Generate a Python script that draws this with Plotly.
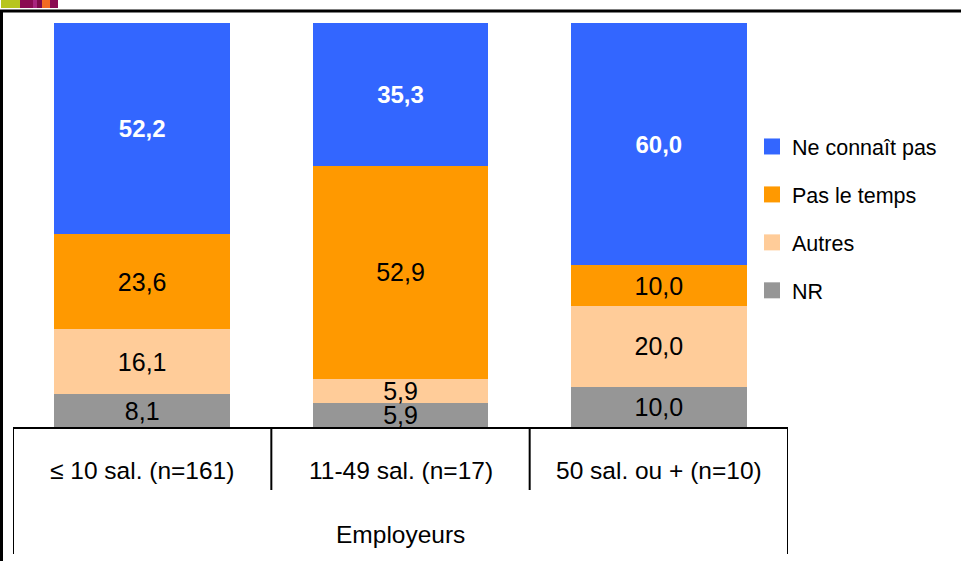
import plotly.graph_objects as go

categories = ["≤ 10 sal. (n=161)", "11-49 sal. (n=17)", "50 sal. ou + (n=10)"]
group_label = "Employeurs"
series_names = ["NR", "Autres", "Pas le temps", "Ne connaît pas"]
nr = [8.1, 5.9, 10.0]
autres = [16.1, 5.9, 20.0]
pas_le_temps = [23.6, 52.9, 10.0]
ne_connait_pas = [52.2, 35.3, 60.0]
series_values = [nr, autres, pas_le_temps, ne_connait_pas]
colors = ["#969696", "#FFCC99", "#FF9900", "#3366FF"]

FONT = "Liberation Sans, Arial, sans-serif"
W, H = 961, 561

def fmt(v):
    return f"{v:.1f}".replace(".", ",")

fig = go.Figure()
xs = [0, 1, 2]
for name, vals, col in zip(series_names, series_values, colors):
    is_blue = name == "Ne connaît pas"
    fig.add_trace(go.Bar(
        x=xs, y=vals, name=name, marker=dict(color=col, line=dict(width=0)),
        text=[fmt(v) for v in vals], textposition="inside", insidetextanchor="middle",
        constraintext="none",
        textfont=dict(family=FONT, size=24 if is_blue else 25,
                      color="white" if is_blue else "black",
                      weight="bold" if is_blue else "normal"),
        showlegend=False, hoverinfo="skip",
    ))

# legend entries (square markers), top to bottom
for i, (name, col) in enumerate(reversed(list(zip(series_names, colors)))):
    fig.add_trace(go.Scatter(
        x=[None], y=[None], mode="markers", name=name,
        marker=dict(symbol="square", size=16, color=col, line=dict(width=0)),
        legendgroup=f"g{i}", showlegend=True,
    ))

fig.update_layout(
    width=W, height=H,
    margin=dict(l=0, r=0, t=0, b=0),
    paper_bgcolor="white", plot_bgcolor="white",
    barmode="stack", bargap=0.32,
    font=dict(family=FONT, size=22, color="black"),
    xaxis=dict(domain=[13 / W, 788 / W], range=[-0.5, 2.5], showticklabels=False,
               showgrid=False, zeroline=False, showline=True, linecolor="black",
               linewidth=2, ticks="", fixedrange=True),
    yaxis=dict(domain=[(H - 427) / H, (H - 23) / H], range=[0, 100], visible=False,
               fixedrange=True),
    legend=dict(x=752 / W, y=(H - 126) / H, xanchor="left", yanchor="top",
                traceorder="grouped", tracegroupgap=17,
                font=dict(family=FONT, size=21.5, color="black"),
                bgcolor="rgba(0,0,0,0)"),
    showlegend=True,
)

# category labels
for i, c in enumerate(categories):
    fig.add_annotation(x=i, y=(H - 470) / H, xref="x", yref="paper", text=c,
                       showarrow=False, font=dict(family=FONT, size=24.5, color="black"),
                       xanchor="center", yanchor="middle")
fig.add_annotation(x=1, y=(H - 534) / H, xref="x", yref="paper", text=group_label,
                   showarrow=False, font=dict(family=FONT, size=24.5, color="black"),
                   xanchor="center", yanchor="middle")

# separators of category box
for xv, ybot in [(-0.5, 554), (0.5, 490), (1.5, 490), (2.5, 554)]:
    fig.add_shape(type="line", xref="x", yref="paper", x0=xv, x1=xv,
                  y0=(H - 427) / H, y1=(H - ybot) / H, line=dict(color="black", width=2))

# frame lines
fig.add_shape(type="line", xref="paper", yref="paper", x0=0, x1=1,
              y0=(H - 11) / H, y1=(H - 11) / H, line=dict(color="black", width=3))
fig.add_shape(type="line", xref="paper", yref="paper", x0=1.5 / W, x1=1.5 / W,
              y0=0, y1=(H - 11) / H, line=dict(color="black", width=3))

# decorative strip top-left
strip = [(1, 20, "#B7C51E"), (20, 33, "#8A0B52"), (33, 37, "#A8247E"),
         (37, 42, "#7D0A4A"), (42, 50, "#F26A21"), (50, 58, "#8A0B52")]
for x0, x1, col in strip:
    fig.add_shape(type="rect", xref="paper", yref="paper", x0=x0 / W, x1=x1 / W,
                  y0=(H - 8) / H, y1=1, line=dict(width=0), fillcolor=col)

fig.write_html("out.html", config={"displayModeBar": False},
               post_script="document.body.style.margin='0px';")
